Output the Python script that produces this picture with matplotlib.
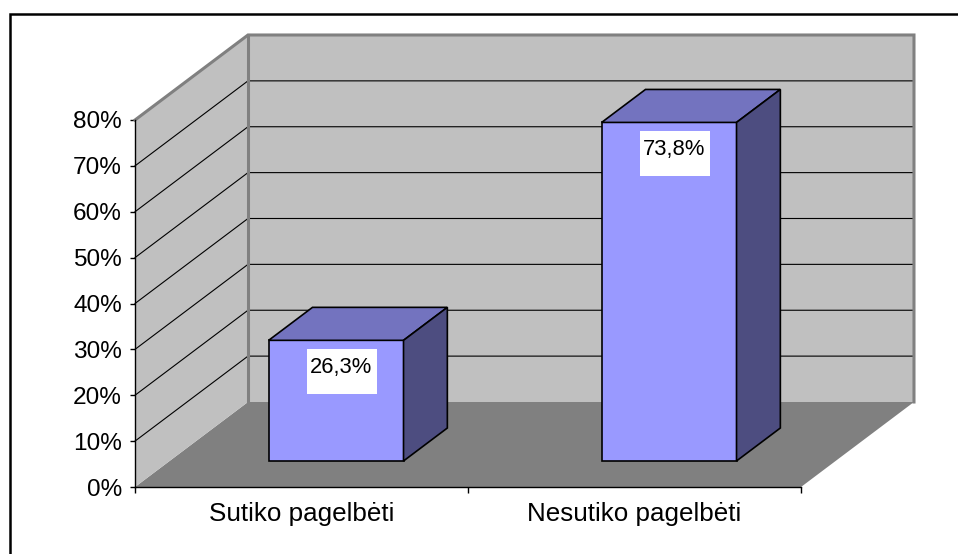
import matplotlib
matplotlib.use("Agg")
import matplotlib.pyplot as plt
from matplotlib.patches import Polygon, Rectangle
from matplotlib.transforms import Affine2D, ScaledTranslation

# data
categories = ["Sutiko pagelbėti", "Nesutiko pagelbėti"]
values = [26.3, 73.8]
y_ticks = [0, 10, 20, 30, 40, 50, 60, 70, 80]

plt.rcParams["font.family"] = ["Liberation Sans", "DejaVu Sans"]
plt.rcParams["font.size"] = 17.5

# oblique projection of the Excel 3D look: full depth shifts x by
# DEPTH_DX category units and y by DEPTH_DY percent units
DEPTH_DX = 0.3393
DEPTH_DY = 18.53
BAR_HALF = 0.2025
BAR_Z0, BAR_Z1 = 0.306, 0.694

WALL = "#c0c0c0"
FLOOR = "#808080"
EDGE = "#808080"
FRONT = "#9999ff"
TOP = "#7373bf"
SIDE = "#4d4d80"


def project(x, y, z):
    return (x + z * DEPTH_DX, y + z * DEPTH_DY)


def face(ax, pts, color, zorder, edge="none", lw=0):
    poly = Polygon([project(*p) for p in pts], closed=True, facecolor=color,
                   edgecolor=edge, linewidth=lw, clip_on=False, zorder=zorder,
                   joinstyle="miter")
    ax.add_patch(poly)


fig = plt.figure(figsize=(9.58, 5.54), dpi=100)
W, H = 958, 554
ax = fig.add_axes([135 / W, (H - 487) / H, 666 / W, 367 / H])
ax.set_facecolor("none")

n = len(categories)
ymax = y_ticks[-1]
ax.set_xlim(0, n)
ax.set_ylim(0, ymax)

# floor and walls
face(ax, [(0, 0, 0), (n, 0, 0), (n, 0, 1), (0, 0, 1)], FLOOR, 1)
face(ax, [(0, 0, 0), (0, ymax, 0), (0, ymax, 1), (0, 0, 1)], WALL, 1)
face(ax, [(0, 0, 1), (n, 0, 1), (n, ymax, 1), (0, ymax, 1)], WALL, 1)

# gridlines on the side and back wall
for v in y_ticks[1:-1]:
    pts = [project(0, v, 0), project(0, v, 1), project(n, v, 1)]
    ax.plot([p[0] for p in pts], [p[1] for p in pts], color="black",
            lw=0.8, clip_on=False, zorder=1.5)

# grey wall edges
edge_pts = [project(0, ymax, 0), project(0, ymax, 1), project(n, ymax, 1),
            project(n, 0, 1)]
ax.plot([p[0] for p in edge_pts], [p[1] for p in edge_pts], color=EDGE,
        lw=2.2, clip_on=False, zorder=1.6, solid_joinstyle="miter")
back_edge = [project(0, ymax, 1), project(0, 0, 1)]
ax.plot([p[0] for p in back_edge], [p[1] for p in back_edge], color=EDGE,
        lw=2.2, clip_on=False, zorder=1.6)

# bars
for i, v in enumerate(values):
    c = i + 0.5
    l, r = c - BAR_HALF, c + BAR_HALF
    face(ax, [(l, 0, BAR_Z0), (r, 0, BAR_Z0), (r, v, BAR_Z0), (l, v, BAR_Z0)],
         FRONT, 3, "black", 1.2)
    face(ax, [(l, v, BAR_Z0), (r, v, BAR_Z0), (r, v, BAR_Z1), (l, v, BAR_Z1)],
         TOP, 3, "black", 1.2)
    face(ax, [(r, 0, BAR_Z0), (r, 0, BAR_Z1), (r, v, BAR_Z1), (r, v, BAR_Z0)],
         SIDE, 3, "black", 1.2)

    # value label in a white box (70 x 45 px) just under the bar top
    tx, ty = project(c + 0.018, v, BAR_Z0)
    at_top = Affine2D().translate(0, -31) + ScaledTranslation(tx, ty, ax.transData)
    ax.add_patch(Rectangle((-35, -22.5), 70, 45, transform=at_top,
                           facecolor="white", edgecolor="none", zorder=4,
                           clip_on=False))
    label = f"{v:.1f}".replace(".", ",") + "%"
    ax.annotate(label, (tx, ty), xytext=(-1, -19.5), textcoords="offset points",
                ha="center", va="center", fontsize=15.8, zorder=5)

# axes
for s in ["top", "right"]:
    ax.spines[s].set_visible(False)
for s in ["left", "bottom"]:
    ax.spines[s].set_color("black")
    ax.spines[s].set_linewidth(1.0)
    ax.spines[s].set_zorder(2.5)

ax.set_yticks(y_ticks)
ax.set_yticklabels([f"{v}%" for v in y_ticks])
ax.tick_params(axis="y", direction="out", length=3.5, width=1, pad=6,
               labelsize=17.6)

ax.set_xticks(range(n + 1))
ax.set_xticklabels([])
ax.set_xticks([i + 0.5 for i in range(n)], minor=True)
ax.set_xticklabels(categories, minor=True)
ax.tick_params(axis="x", which="major", direction="out", length=4.5, width=1)
ax.tick_params(axis="x", which="minor", length=0, pad=10.5, labelsize=18.7)

# outer chart border, cut at the right and bottom like the source image
fig.patches.append(Rectangle((10 / W, -0.1), 1.2, (H - 13.5) / H + 0.1,
                             transform=fig.transFigure, fill=False,
                             edgecolor="black", linewidth=1.8))

fig.savefig("out.png", dpi=100)
